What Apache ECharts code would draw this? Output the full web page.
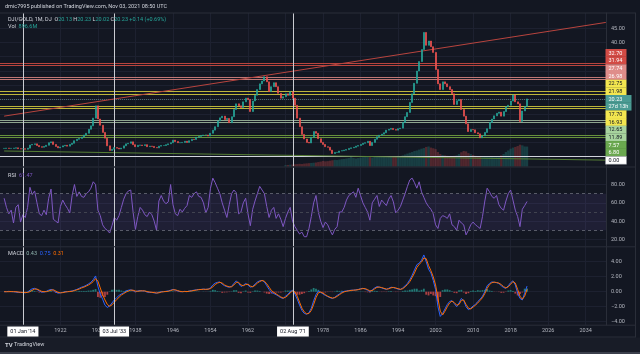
<!DOCTYPE html>
<html><head><meta charset="utf-8">
<script src="https://cdn.jsdelivr.net/npm/echarts@6/dist/echarts.min.js"></script>
<style>html,body{margin:0;padding:0;background:#131722;overflow:hidden}#c{width:640px;height:354px}</style>
</head><body><div id="c"></div>
<script>
// ---------- data ----------
const START_YEAR = 1910;          // first half-year period of the series
const yearTicks = [1914,1922,1930,1938,1946,1954,1962,1970,1978,1986,1994,2002,2010,2018,2026,2034];

// DJI/GOLD close, one value per half-year from 1910.0
const priceClose = [
 2.9,3.0,2.9,2.9,3.0,3.1,2.8,2.7,2.8,2.6,
 3.0,4.1,4.3,4.5,3.9,3.5,3.3,3.6,4.0,4.9,
 5.2,4.3,3.6,3.1,3.4,3.8,4.0,3.7,4.3,4.7,
 5.6,6.1,6.4,6.9,7.6,8.2,9.6,10.8,13.5,17.8,
 13.2,11.0,8.5,6.5,3.8,2.2,2.6,3.2,3.0,2.7,
 3.0,3.8,4.5,4.7,5.2,4.2,3.5,4.0,4.1,3.9,
 4.2,3.5,3.7,3.6,3.2,3.1,3.7,3.9,3.9,4.2,
 4.5,4.9,5.8,5.3,4.9,4.9,5.0,5.4,5.0,5.6,
 6.1,6.0,6.8,7.1,7.4,7.6,7.6,7.25,8.2,9.3,
 10.5,12.5,13.6,14.2,13.0,13.4,11.9,14.0,16.5,18.5,
 17.8,17.2,19.2,20.5,20.0,15.8,19.5,21.5,23.5,25.5,
 26.5,28.0,26.2,22.8,24.5,25.9,24.5,22.2,20.5,21.0,
 22.0,21.5,22.7,20.5,18.0,13.5,10.5,7.8,6.2,5.0,
 4.8,6.8,8.8,8.2,6.3,5.0,4.3,3.5,3.3,2.3,
 1.1,1.5,1.5,2.0,2.1,2.3,2.5,2.9,3.1,3.3,
 3.7,3.9,4.3,4.7,4.9,5.4,3.9,5.0,6.1,7.0,
 7.5,7.9,8.4,9.3,9.6,9.9,9.5,9.3,9.8,10.0,
 12.0,14.0,15.5,19.0,22.0,25.7,30.0,33.3,37.5,43.5,
 39.0,40.5,38.5,36.5,30.5,25.5,23.5,26.2,25.5,24.5,
 23.5,22.0,18.3,19.6,20.0,16.5,14.2,11.5,8.8,9.5,
 9.4,8.4,8.0,6.6,7.3,8.5,9.8,12.0,13.2,14.3,
 15.2,15.6,14.2,15.8,17.5,18.0,19.5,21.6,19.2,18.5,
 12.3,16.0,17.6,20.23
];

// Volume (millions), one value per half-year from VOL_START
const VOL_START = 1970;
const volume = [
 60,70,80,90,100,110,120,110,130,140,
 150,160,170,180,200,220,250,230,240,260,
 280,300,290,310,330,340,360,380,420,380,
 360,380,400,420,450,440,420,400,430,450,
 470,460,440,420,430,450,440,460,480,470,
 500,540,580,620,650,700,720,760,800,830,
 880,900,850,820,780,650,560,520,500,480,
 470,460,480,500,560,640,700,680,600,560,
 520,480,460,440,420,430,440,450,430,420,
 440,460,500,560,650,720,800,850,880,920,
 980,950,900,896.6
];

// RSI(14), half-yearly from 1910.0
const rsi = [
 65,55,48,52,38,55,58,39,47,44,
 55,77,69,73,60,48,46,52,47,65,
 75,42,40,38,56,63,58,54,49,68,
 80,67,72,67,66,70,72,76,83,80,
 52,46,36,32,30,27,35,44,41,46,
 55,64,70,73,74,50,31,45,55,52,
 47,45,50,47,40,30,62,68,62,59,
 61,80,58,48,46,53,50,54,57,68,
 66,70,72,67,66,60,49,55,76,87,
 82,76,70,60,52,44,58,70,74,71,
 48,50,60,65,48,35,53,62,70,78,
 74,70,56,44,52,55,43,48,42,34,
 43,50,55,40,34,30,26,28,23,23,
 32,45,60,68,50,40,33,39,36,30,
 25,31,34,50,50,55,63,68,70,72,
 66,76,68,60,55,50,41,60,64,68,
 56,63,60,57,64,68,61,49,52,56,
 63,70,78,85,87,82,76,83,72,66,
 60,56,53,48,36,32,43,46,45,43,
 48,36,34,30,41,38,36,25,30,36,
 39,36,34,32,45,62,76,72,67,65,
 68,58,54,52,62,70,74,63,52,45,
 34,53,57,61.47
];

// MACD line, signal line, histogram, half-yearly from 1910.0
const macd = [
 0.0,0.0,0.05,0.0,0.0,-0.05,-0.1,-0.1,-0.1,-0.15,
 -0.05,0.2,0.4,0.45,0.3,0.1,-0.05,-0.05,0.05,0.2,
 0.3,0.2,-0.05,-0.2,-0.15,-0.1,0.0,0.0,0.05,0.1,
 0.2,0.3,0.45,0.6,0.7,0.85,1.05,1.25,1.6,2.1,
 0.7,-0.3,-1.0,-1.8,-2.1,-1.9,-1.5,-1.1,-0.8,-0.5,
 -0.3,-0.15,0.1,0.2,0.25,0.15,0.0,0.1,0.15,0.1,
 0.1,-0.05,-0.1,-0.1,-0.15,-0.2,-0.1,0.0,0.0,0.05,
 0.1,0.2,0.3,0.2,0.1,0.0,0.0,0.05,0.0,0.1,
 0.15,0.2,0.25,0.3,0.3,0.35,0.3,0.35,0.5,0.9,
 1.15,1.25,1.3,1.0,0.8,0.67,0.6,0.7,1.1,1.45,
 1.1,0.7,0.85,1.1,0.9,0.6,0.7,1.0,1.3,1.45,
 1.5,1.3,0.8,0.3,-0.1,-0.25,-0.4,-0.6,-0.8,-0.9,
 -0.6,-0.35,0.0,0.2,-0.3,-1.0,-1.8,-2.5,-2.9,-3.0,
 -2.8,-2.2,-1.2,-0.4,0.1,-0.1,-0.3,-0.5,-0.65,-0.8,
 -0.9,-0.75,-0.5,-0.3,-0.05,0.05,0.1,0.15,0.2,0.2,
 0.25,0.3,0.4,0.45,0.35,0.2,0.0,0.25,0.5,0.67,
 0.6,0.5,0.4,0.3,0.45,0.6,0.55,0.45,0.35,0.3,
 0.5,0.8,1.1,1.6,2.2,2.9,3.6,3.8,4.2,4.9,
 4.0,3.0,2.5,1.5,0.3,-2.0,-3.3,-2.9,-2.3,-1.7,
 -1.3,-1.2,-1.6,-2.0,-1.5,-0.9,-1.2,-2.0,-2.4,-2.2,
 -1.9,-1.7,-1.3,-1.0,-0.6,0.0,0.8,1.1,1.3,1.25,
 1.2,1.1,0.8,0.55,0.45,0.8,1.2,1.45,0.9,-0.2,
 -0.9,-1.1,-0.2,0.75
];
const signal = [
 0.0,0.0,0.0,0.02,0.0,0.0,-0.05,-0.08,-0.1,-0.12,
 -0.1,0.0,0.2,0.35,0.35,0.2,0.05,0.0,0.0,0.1,
 0.2,0.25,0.1,-0.1,-0.15,-0.12,-0.05,0.0,0.02,0.06,
 0.15,0.25,0.35,0.5,0.6,0.75,0.9,1.1,1.35,1.75,
 1.4,0.5,-0.4,-1.1,-1.7,-1.95,-1.75,-1.4,-1.05,-0.75,
 -0.45,-0.25,-0.05,0.1,0.2,0.2,0.08,0.05,0.1,0.12,
 0.1,0.02,-0.05,-0.08,-0.12,-0.17,-0.15,-0.05,0.0,0.02,
 0.06,0.15,0.25,0.25,0.15,0.05,0.0,0.02,0.02,0.06,
 0.1,0.17,0.22,0.27,0.3,0.32,0.32,0.33,0.42,0.65,
 0.95,1.15,1.25,1.15,0.9,0.75,0.65,0.65,0.9,1.25,
 1.25,0.9,0.8,0.95,1.0,0.75,0.65,0.85,1.15,1.35,
 1.5,1.4,1.05,0.6,0.15,-0.1,-0.3,-0.5,-0.7,-0.85,
 -0.75,-0.5,-0.15,0.1,0.0,-0.6,-1.4,-2.2,-2.7,-2.95,
 -2.9,-2.5,-1.7,-0.8,-0.15,-0.05,-0.2,-0.4,-0.6,-0.75,
 -0.85,-0.8,-0.62,-0.4,-0.18,-0.02,0.06,0.12,0.17,0.2,
 0.22,0.27,0.35,0.42,0.4,0.28,0.1,0.15,0.38,0.58,
 0.62,0.55,0.45,0.35,0.38,0.52,0.57,0.5,0.4,0.32,
 0.4,0.65,0.95,1.35,1.9,2.5,3.2,3.65,3.95,4.5,
 4.4,3.5,2.8,2.0,0.9,-0.9,-2.6,-3.1,-2.6,-2.0,
 -1.5,-1.25,-1.45,-1.8,-1.7,-1.15,-1.1,-1.7,-2.2,-2.3,
 -2.05,-1.8,-1.5,-1.15,-0.8,-0.25,0.45,0.95,1.2,1.28,
 1.22,1.15,0.95,0.68,0.5,0.65,1.0,1.35,1.15,0.3,
 -0.6,-1.0,-0.6,0.31
];
const hist = [
 0,0,0.05,-0.02,0,-0.05,-0.05,-0.02,0,-0.03,
 0.05,0.2,0.2,0.1,-0.05,-0.1,-0.1,-0.05,0.05,0.1,
 0.1,-0.05,-0.15,-0.1,0,0.02,0.05,0,0.03,0.04,
 0.05,0.05,0.1,0.1,0.1,0.1,0.15,0.15,0.25,0.35,
 -0.7,-0.8,-0.6,-0.7,-0.4,0.05,0.25,0.3,0.25,0.25,
 0.15,0.1,0.15,0.1,0.05,-0.05,-0.08,0.05,0.05,-0.02,
 0,-0.07,-0.05,-0.02,-0.03,-0.03,0.05,0.05,0,0.03,
 0.04,0.05,0.05,-0.05,-0.05,-0.05,0,0.03,-0.02,0.04,
 0.05,0.03,0.03,0.03,0,0.03,-0.02,0.02,0.08,0.25,
 0.2,0.1,0.05,-0.15,-0.1,-0.08,-0.05,0.05,0.2,0.2,
 -0.15,-0.2,0.05,0.15,-0.1,-0.15,0.05,0.15,0.15,0.1,
 0,-0.1,-0.25,-0.3,-0.25,-0.15,-0.1,-0.1,-0.1,-0.05,
 0.15,0.15,0.15,0.1,-0.3,-0.4,-0.4,-0.3,-0.2,-0.05,
 0.1,0.3,0.5,0.4,0.25,-0.05,-0.1,-0.1,-0.05,-0.05,
 -0.05,0.05,0.12,0.1,0.13,0.07,0.04,0.03,0.03,0,
 0.03,0.03,0.05,0.03,-0.05,-0.08,-0.1,0.1,0.12,0.09,
 -0.02,-0.05,-0.05,-0.05,0.07,0.08,-0.02,-0.05,-0.05,-0.02,
 0.1,0.15,0.15,0.25,0.3,0.4,0.4,0.15,0.25,0.4,
 -0.4,-0.5,-0.3,-0.5,-0.6,-1.3,-0.7,0.2,0.3,0.3,
 0.2,0.05,-0.15,-0.2,0.2,0.25,-0.1,-0.3,-0.2,0.1,
 0.15,0.1,0.2,0.15,0.2,0.25,0.35,0.15,0.1,-0.03,
 -0.02,-0.05,-0.15,-0.13,-0.05,0.15,0.2,0.1,-0.25,-0.5,
 -0.3,-0.1,0.4,0.43
];

// horizontal levels drawn on the chart (price)
const levels = [32.70,31.94,27.74,26.98,22.75,21.98,17.70,16.93,12.65,11.89,7.57,6.80,0.00];
const lastPrice = 20.23;
const countdown = '27d 13h';
// trend lines [year, price]
const trendRed = [[1910.0, 14.2], [2038.3, 47.0]];
const trendGreen = [[1910.0, 2.0], [2038.3, -1.2]];
// vertical event markers
const eventYears = [1914.0, 1933.5, 1971.58];
const eventNames = ["01 Jan '14", "03 Jul '33", "02 Aug '71"];

// ---------- styling ----------
const BG = '#131722', GRID = '#1d2130', SEP = '#2a2e39', TXT = '#b2b5be';
const UP = '#26a69a', DOWN = '#ef5350';
const FONT = 'Roboto, "Liberation Sans", sans-serif';
const FS = 5.5;
const lineColors = ['#b8443e','#b8443e','#bf7775','#bf7775','#bdb53a','#bdb53a','#bdb53a','#bdb53a','#8ea58e','#8ea58e','#67923c','#67923c','#d1d4dc'];
const boxColors  = ['#d24b45','#d24b45','#df8d8a','#df8d8a','#f3e64f','#f3e64f','#f3e64f','#f3e64f','#a7d39e','#a7d39e','#6aa84f','#6aa84f','#ffffff'];
const boxText    = ['#fff','#fff','#fff','#fff','#131722','#131722','#131722','#131722','#131722','#131722','#fff','#fff','#131722'];
const X_MIN = 1909.12, X_MAX = 2038.34;

const t = i => START_YEAR + i * 0.5;
const candles = priceClose.map((c, i) => {
  const o = i ? priceClose[i - 1] : c;
  return [t(i), o, c, Math.min(o, c), Math.max(o, c)];
});
const volOffset = (VOL_START - START_YEAR) * 2;
const volData = volume.map((v, i) => {
  const k = volOffset + i;
  const up = priceClose[k] >= priceClose[k - 1];
  return {value: [VOL_START + i * 0.5, v], itemStyle: {color: up ? 'rgba(38,166,154,0.28)' : 'rgba(239,83,80,0.28)'}};
});
const rsiData = rsi.map((v, i) => [t(i), v]);
const macdData = macd.map((v, i) => [t(i), v]);
const sigData = signal.map((v, i) => [t(i), v]);
const histData = hist.map((v, i) => ({value: [t(i), v], itemStyle: {color: v >= 0 ? 'rgba(38,166,154,0.7)' : 'rgba(239,83,80,0.7)'}}));

const eventLines = eventYears.map(x => ({xAxis: x, lineStyle: {color: '#c9cbd1', width: 1, type: 'solid'}}));

const priceMarks = levels.map((v, i) => ({yAxis: v, lineStyle: {color: lineColors[i], width: 1, type: 'solid'}}));
priceMarks.push({yAxis: lastPrice, lineStyle: {color: '#4f6a70', width: 1, type: 'dotted'}});
priceMarks.push([{coord: trendRed[0], lineStyle: {color: '#b8443e', width: 1, type: 'solid'}}, {coord: trendRed[1]}]);
priceMarks.push([{coord: trendGreen[0], lineStyle: {color: '#567f35', width: 1, type: 'solid'}}, {coord: trendGreen[1]}]);
eventLines.forEach(e => priceMarks.push(e));

const axisText = {color: TXT, fontSize: FS, fontFamily: FONT};
const fmt2 = v => (v < 0 ? '\u2212' : '') + Math.abs(v).toFixed(2);

function xAxisFor(k) {
  return {
    type: 'value', gridIndex: k, min: X_MIN, max: X_MAX,
    axisLine: {show: false}, axisTick: {show: false, customValues: yearTicks},
    axisLabel: k === 2 ? Object.assign({show: true, customValues: yearTicks, formatter: v => String(v), margin: 3}, axisText) : {show: false},
    splitLine: {show: true, lineStyle: {color: GRID, width: 1}}
  };
}
function yAxisFor(k, min, max, ticks, labels) {
  return {
    type: 'value', gridIndex: k, position: 'right', min, max, scale: true,
    axisLine: {show: true, lineStyle: {color: SEP}},
    axisTick: {show: false, customValues: ticks},
    axisLabel: Object.assign({show: true, customValues: labels, formatter: fmt2, margin: 5, align: 'left'}, axisText),
    splitLine: {show: true, lineStyle: {color: GRID, width: 1}}
  };
}

// right scale boxes
const rows = [];
levels.forEach((v, i) => {
  rows.push({text: v.toFixed(2), fill: boxColors[i], color: boxText[i], w: 21});
  if (i === 5) {
    rows.push({text: lastPrice.toFixed(2), fill: '#4a9b93', color: '#fff', w: 26});
    rows.push({text: countdown, fill: '#4a9b93', color: '#fff', w: 26});
  }
});
const ROW_TOP = 49, ROW_H = 7.67;
const boxEls = [];
rows.forEach((r, k) => {
  const y = ROW_TOP + k * ROW_H;
  boxEls.push({type: 'rect', shape: {x: 605.5, y: y, width: r.w, height: ROW_H + 0.2},
    style: {fill: r.fill, stroke: r.fill === '#ffffff' ? '#9598a1' : null, lineWidth: 0.5}, z: 50});
  boxEls.push({type: 'text', x: 608.5, y: y + ROW_H / 2 + 0.3,
    style: {text: r.text, fill: r.color, font: FS + 'px ' + FONT, verticalAlign: 'middle'}, z: 51});
});

const sepY = [13, 167, 246.8, 325.2, 337];
const sepEls = sepY.map(y => ({type: 'line', shape: {x1: 0, y1: y, x2: 636, y2: y}, style: {stroke: SEP, lineWidth: 1}, z: 40}));

const richBase = {fontSize: FS, fontFamily: FONT};
const option = {
  backgroundColor: BG,
  animation: false,
  textStyle: {fontFamily: FONT},
  grid: [
    {left: 0, right: 34, top: 13, height: 153.5},
    {left: 0, right: 34, top: 167.5, height: 79},
    {left: 0, right: 34, top: 247, height: 78}
  ],
  xAxis: [xAxisFor(0), xAxisFor(1), xAxisFor(2)],
  yAxis: [
    yAxisFor(0, -3.43, 50.3, [0,5,10,15,20,25,30,35,40,45], [40,45]),
    {type: 'value', gridIndex: 0, min: 0, max: 6900, show: false, splitLine: {show: false}},
    yAxisFor(1, 12.3, 98.6, [20,40,60,80], [20,40,60,80]),
    yAxisFor(2, -4.44, 5.96, [-4,-2,0,2,4], [-4,-2,0,2,4])
  ],
  series: [
    {type: 'bar', name: 'Vol', xAxisIndex: 0, yAxisIndex: 1, data: volData, barWidth: 2.3, z: 1, silent: true},
    {type: 'candlestick', name: 'DJI/GOLD', xAxisIndex: 0, yAxisIndex: 0, data: candles, barWidth: 1.5, z: 3,
      itemStyle: {color: UP, color0: DOWN, borderColor: UP, borderColor0: DOWN, borderWidth: 0.7},
      markLine: {symbol: ['none', 'none'], silent: true, label: {show: false}, animation: false, z: 2, data: priceMarks}},
    {type: 'line', name: 'RSI', xAxisIndex: 1, yAxisIndex: 2, data: rsiData, showSymbol: false, symbol: 'none',
      lineStyle: {color: '#7e57c2', width: 1}, z: 3,
      markArea: {silent: true, itemStyle: {color: 'rgba(126,87,194,0.12)'}, data: [[{yAxis: 30}, {yAxis: 70}]]},
      markLine: {symbol: ['none', 'none'], silent: true, label: {show: false}, animation: false,
        data: [
          {yAxis: 70, lineStyle: {color: '#6a6d78', type: [3, 3], width: 0.8}},
          {yAxis: 50, lineStyle: {color: '#4a4d58', type: [3, 3], width: 0.8}},
          {yAxis: 30, lineStyle: {color: '#6a6d78', type: [3, 3], width: 0.8}}
        ].concat(eventLines)}},
    {type: 'bar', name: 'Histogram', xAxisIndex: 2, yAxisIndex: 3, data: histData, barWidth: 1.8, z: 2, silent: true},
    {type: 'line', name: 'MACD', xAxisIndex: 2, yAxisIndex: 3, data: macdData, showSymbol: false, symbol: 'none',
      lineStyle: {color: '#2962ff', width: 1}, z: 3,
      markLine: {symbol: ['none', 'none'], silent: true, animation: false,
        label: {show: true, position: 'start', distance: 1.5, formatter: p => p.name, color: '#131722', backgroundColor: '#ffffff',
          fontSize: FS, fontFamily: FONT, padding: [2.5, 3, 2, 3], borderRadius: 0},
        data: eventYears.map((x, i) => ({xAxis: x, name: eventNames[i], lineStyle: {color: '#c9cbd1', width: 1, type: 'solid'}}))}},
    {type: 'line', name: 'Signal', xAxisIndex: 2, yAxisIndex: 3, data: sigData, showSymbol: false, symbol: 'none',
      lineStyle: {color: '#ff6d00', width: 1}, z: 3}
  ],
  graphic: {elements: [
    {type: 'rect', shape: {x: 0, y: 337.5, width: 640, height: 16.5}, style: {fill: '#181c27'}, z: 30},
    {type: 'rect', shape: {x: 0, y: 352, width: 640, height: 2}, style: {fill: '#3b3f4b'}, z: 31},
    {type: 'line', shape: {x1: 635.5, y1: 13, x2: 635.5, y2: 337}, style: {stroke: SEP, lineWidth: 1}, z: 40},
    ...sepEls,
    {type: 'text', x: 5, y: 6.7, style: {text: 'dmic7995 published on TradingView.com, Nov 03, 2021 08:50 UTC', fill: '#d1d4dc', font: FS + 'px ' + FONT, verticalAlign: 'middle'}, z: 60},
    {type: 'text', x: 8, y: 19.5, z: 60, style: {verticalAlign: 'middle', font: FS + 'px ' + FONT,
      text: '{a|DJI/GOLD, 1M, DJ}  {b|O}{c|20.13} {b|H}{c|20.23} {b|L}{c|20.02} {b|C}{c|20.23} {c|+0.14 (+0.69%)}',
      rich: {a: Object.assign({fill: '#d1d4dc'}, richBase), b: Object.assign({fill: '#d1d4dc'}, richBase), c: Object.assign({fill: '#26a69a'}, richBase)}}},
    {type: 'text', x: 8, y: 27, z: 60, style: {verticalAlign: 'middle', font: FS + 'px ' + FONT,
      text: '{b|Vol}  {c|896.6M}', rich: {b: Object.assign({fill: '#d1d4dc'}, richBase), c: Object.assign({fill: '#26a69a'}, richBase)}}},
    {type: 'text', x: 8, y: 175.2, z: 60, style: {verticalAlign: 'middle', font: FS + 'px ' + FONT,
      text: '{b|RSI}  {c|61.47}', rich: {b: Object.assign({fill: '#d1d4dc'}, richBase), c: Object.assign({fill: '#7e57c2'}, richBase)}}},
    {type: 'text', x: 8, y: 254, z: 60, style: {verticalAlign: 'middle', font: FS + 'px ' + FONT,
      text: '{b|MACD}  {h|0.43}  {m|0.75}  {s|0.31}', rich: {b: Object.assign({fill: '#d1d4dc'}, richBase), h: Object.assign({fill: '#8fb3ad'}, richBase), m: Object.assign({fill: '#2962ff'}, richBase), s: Object.assign({fill: '#ff6d00'}, richBase)}}},
    {type: 'text', x: 5, y: 345, z: 60, style: {verticalAlign: 'middle', font: FS + 'px ' + FONT,
      text: '{l|TV} {b|TradingView}', rich: {l: {fill: '#d1d4dc', fontSize: 6, fontWeight: 'bold', fontFamily: FONT}, b: Object.assign({fill: '#d1d4dc'}, richBase)}}},
    ...boxEls
  ]}
};
const chart = echarts.init(document.getElementById('c'), null, {renderer: 'canvas'});
chart.setOption(option);
</script>
</body></html>
